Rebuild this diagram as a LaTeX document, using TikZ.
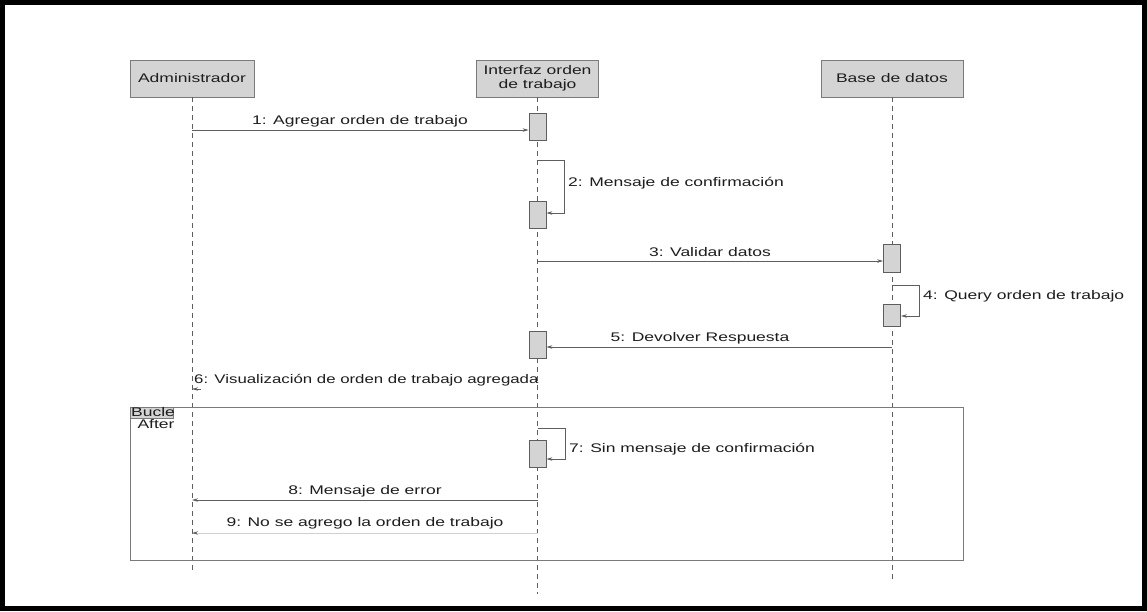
\documentclass[tikz,border=0pt]{standalone}
\usepackage{fontspec}
\usepackage{graphicx}
\setmainfont{Liberation Sans}
\usetikzlibrary{arrows.meta}
\definecolor{boxfill}{HTML}{D4D4D4}
\definecolor{boxline}{HTML}{7A7A7A}
\definecolor{msgline}{HTML}{5E5E5E}
\definecolor{faintline}{HTML}{D0D0D0}
\definecolor{txt}{HTML}{1E1E1E}
% labels in this diagram are set wide
\newcommand{\wtext}[2][1.4]{\scalebox{#1}[1]{#2}}
\tikzset{
  head/.style={draw=boxline, fill=boxfill, line width=0.9pt, inner sep=0pt,
    minimum height=37pt, text=txt, font=\fontsize{12.5}{14.5}\selectfont},
  life/.style={draw=msgline, line width=0.8pt, dash pattern=on 5pt off 4pt},
  act/.style={draw=msgline, fill=boxfill, line width=0.8pt, inner sep=0pt,
    minimum width=17pt},
  msg/.style={draw=msgline, line width=0.8pt, -{Stealth[length=6pt,width=3.5pt]}},
  faintmsg/.style={draw=faintline, line width=0.8pt, -{Stealth[length=6pt,width=3.5pt,color=msgline]}},
  lbl/.style={text=txt, inner sep=0pt, font=\fontsize{12.5}{14}\selectfont},
}
\begin{document}
\begin{tikzpicture}[x=1pt,y=-1pt]
\useasboundingbox (0,0) rectangle (1147,611);
\fill[white] (0,0) rectangle (1147,611);
\draw[black, line width=5pt] (2.5,2.5) rectangle (1144.5,608.5);

% lifeline heads
\node[head, minimum width=124pt] (admin) at (192,78.5) {\wtext{Administrador}};
\node[head, minimum width=122pt] (ui) at (537.5,78.5)
  {\wtext{\begin{tabular}{@{}c@{}}Interfaz orden\\[-1pt]de trabajo\end{tabular}}};
\node[head, minimum width=142pt] (db) at (892,78.5) {\wtext{Base de datos}};

% lifelines
\coordinate (adminEnd) at (192,572);
\coordinate (uiEnd) at (537.5,594);
\coordinate (dbEnd) at (892,582);
\draw[life] (admin.south) -- (adminEnd);
\draw[life] (ui.south) -- (uiEnd);
\draw[life] (db.south) -- (dbEnd);

% loop fragment
\coordinate (loopA) at (130,407);
\coordinate (loopB) at (963,560);
\draw[boxline, line width=0.8pt] (loopA) rectangle (loopB);
\node[fill=boxfill, draw=boxline, line width=0.5pt, inner sep=0pt, anchor=north west,
  minimum width=43pt, minimum height=11pt] (looptag) at (loopA) {};
\node[lbl, anchor=west] (bucle) at (131,412) {\wtext{Bucle}};
\node[lbl] (after) at (156,424) {\wtext{After}};

% activation bars
\node[act, minimum height=27pt] (a1) at (537.5,126.5) {};
\node[act, minimum height=27pt] (a2) at (537.5,214.5) {};
\node[act, minimum height=28pt] (a3) at (892,258) {};
\node[act, minimum height=22pt] (a4) at (892,315) {};
\node[act, minimum height=27pt] (a5) at (537.5,344.5) {};
\node[act, minimum height=27pt] (a7) at (537.5,453.5) {};

% 1
\coordinate (m1) at (192,130);
\draw[msg] (m1) -- (a1.west |- m1);
\node[lbl] (l1) at (360,121) {\wtext{1: Agregar orden de trabajo}};

% 2 (self call)
\coordinate (m2a) at (537.5,160);
\coordinate (m2b) at (564,213);
\draw[msg] (m2a) -- (m2a -| m2b) -- (m2b) -- (a2.east |- m2b);
\node[lbl, anchor=west] (l2) at (568,183) {\wtext{2: Mensaje de confirmación}};

% 3
\coordinate (m3) at (537.5,261);
\draw[msg] (m3) -- (a3.west |- m3);
\node[lbl] (l3) at (710,252) {\wtext{3: Validar datos}};

% 4 (self call)
\coordinate (m4a) at (892,285);
\coordinate (m4b) at (919,316);
\draw[msg] (m4a) -- (m4a -| m4b) -- (m4b) -- (a4.east |- m4b);
\node[lbl, anchor=west] (l4) at (923,296) {\wtext{4: Query orden de trabajo}};

% 5
\coordinate (m5) at (892,347);
\draw[msg] (m5) -- (a5.east |- m5);
\node[lbl] (l5) at (700,338) {\wtext{5: Devolver Respuesta}};

% 6
\coordinate (m6a) at (201,389);
\coordinate (m6b) at (192,389);
\draw[msg] (m6a) -- (m6b);
\node[lbl, anchor=west] (l6) at (194,380) {\wtext[1.345]{6: Visualización de orden de trabajo agregada}};

% 7 (self call)
\coordinate (m7a) at (537.5,428);
\coordinate (m7b) at (565,459);
\draw[msg] (m7a) -- (m7a -| m7b) -- (m7b) -- (a7.east |- m7b);
\node[lbl, anchor=west] (l7) at (569,449) {\wtext{7: Sin mensaje de confirmación}};

% 8
\coordinate (m8a) at (537.5,500);
\coordinate (m8b) at (192,500);
\draw[msg] (m8a) -- (m8b);
\node[lbl] (l8) at (365,491) {\wtext{8: Mensaje de error}};

% 9
\coordinate (m9a) at (537.5,533);
\coordinate (m9b) at (192,533);
\draw[faintmsg] (m9a) -- (m9b);
\node[lbl] (l9) at (365,523) {\wtext{9: No se agrego la orden de trabajo}};
\end{tikzpicture}
\end{document}
